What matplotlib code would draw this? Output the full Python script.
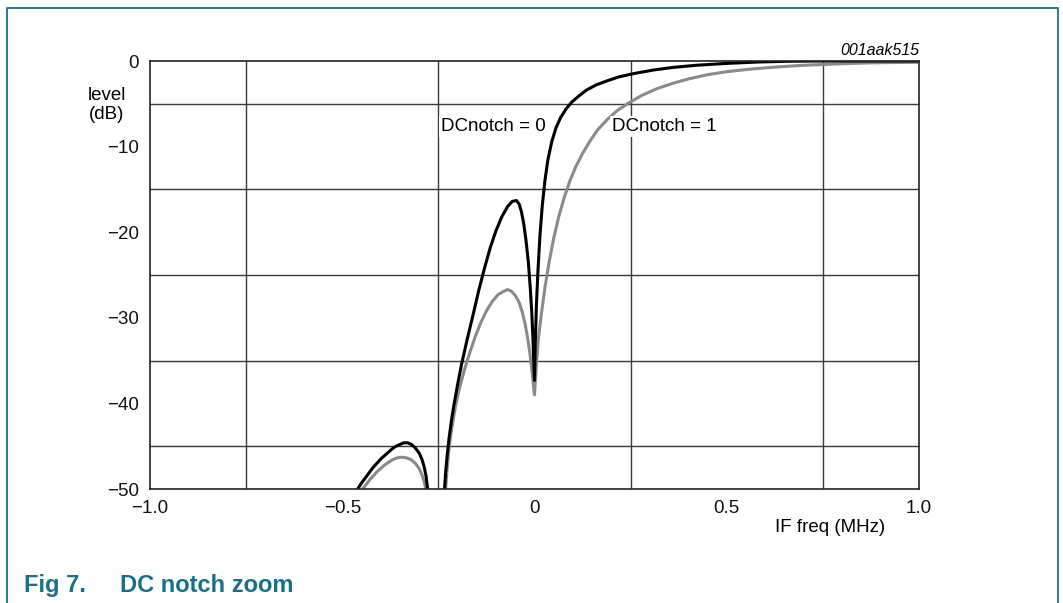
import numpy as np
from matplotlib import pyplot as plt
from matplotlib.lines import Line2D

# -------------------------------------------------
# Data (IF freq in MHz, level in dB)
# -------------------------------------------------
notch0_side_f = [-0.46, -0.45, -0.44, -0.43, -0.42, -0.41, -0.40, -0.39, -0.38, -0.37, -0.36,
                 -0.35, -0.34, -0.33, -0.32, -0.31, -0.30, -0.293, -0.287, -0.282, -0.278]
notch0_side_db = [-50, -49.3, -48.7, -48.1, -47.5, -47.0, -46.5, -46.1, -45.7, -45.3, -45.0,
                  -44.8, -44.6, -44.6, -44.8, -45.2, -45.8, -46.5, -47.4, -48.5, -50]

notch0_main_f = [-0.234, -0.231, -0.227, -0.222, -0.216, -0.21, -0.20, -0.19, -0.175, -0.16, -0.145,
                 -0.13, -0.115, -0.10, -0.085, -0.07, -0.058, -0.047, -0.04, -0.034, -0.028,
                 -0.022, -0.016, -0.011, -0.007, -0.004, -0.002, 0.0,
                 0.002, 0.005, 0.009, 0.014, 0.02, 0.027, 0.035, 0.045, 0.056, 0.068, 0.082,
                 0.097, 0.115, 0.135, 0.16, 0.19, 0.22, 0.26, 0.31, 0.36, 0.42, 0.50, 0.58,
                 0.66, 0.75, 1.0]
notch0_main_db = [-50, -48, -46, -44, -42, -40.3, -37.8, -35.5, -32.5, -29.7, -26.8,
                  -24.2, -21.8, -19.8, -18.2, -17.0, -16.4, -16.3, -16.7, -17.6, -19.0,
                  -21.0, -23.5, -26.5, -29.5, -32.5, -35, -37.3,
                  -33, -28.5, -24.5, -20.5, -17, -14, -11.5, -9.4, -7.8, -6.6, -5.6,
                  -4.8, -4.1, -3.4, -2.8, -2.3, -1.85, -1.45, -1.05, -0.75, -0.5, -0.28, -0.12,
                  -0.03, 0.0, 0.0]

notch1_side_f = [-0.447, -0.44, -0.43, -0.42, -0.41, -0.40, -0.39, -0.38, -0.37, -0.36,
                 -0.35, -0.34, -0.33, -0.32, -0.31, -0.30, -0.293, -0.287, -0.283]
notch1_side_db = [-50, -49.6, -49.0, -48.5, -48.0, -47.6, -47.2, -46.9, -46.6, -46.4,
                  -46.3, -46.3, -46.4, -46.6, -47.0, -47.6, -48.3, -49.1, -50]

notch1_main_f = [-0.231, -0.228, -0.224, -0.219, -0.212, -0.204, -0.195, -0.183, -0.17, -0.155,
                 -0.14, -0.125, -0.11, -0.095, -0.08, -0.07, -0.06, -0.05, -0.04, -0.032,
                 -0.024, -0.017, -0.011, -0.006, -0.002, 0.0,
                 0.004, 0.01, 0.018, 0.027, 0.038, 0.05, 0.063, 0.077, 0.092, 0.108, 0.125,
                 0.145, 0.165, 0.19, 0.215, 0.245, 0.28, 0.32, 0.36, 0.40, 0.45, 0.50, 0.56,
                 0.63, 0.70, 0.78, 0.87, 0.95, 1.0]
notch1_main_db = [-50, -48, -46, -44, -42, -40, -38.2, -36.2, -34.3, -32.3,
                  -30.6, -29.2, -28.1, -27.3, -26.9, -26.7, -26.9, -27.4, -28.2, -29.3,
                  -30.8, -32.6, -34.5, -36.5, -38.2, -39,
                  -36, -32.5, -29.5, -26.5, -23.5, -20.7, -18.2, -16, -14, -12.3, -10.8,
                  -9.3, -8.0, -6.8, -5.8, -4.9, -4.0, -3.2, -2.6, -2.1, -1.6, -1.25, -0.95,
                  -0.7, -0.5, -0.35, -0.22, -0.17, -0.15]

x_ticks = [-1.0, -0.5, 0.0, 0.5, 1.0]
x_tick_labels = ["\u22121.0", "\u22120.5", "0", "0.5", "1.0"]
y_ticks = [0, -10, -20, -30, -40, -50]
y_tick_labels = ["0", "\u221210", "\u221220", "\u221230", "\u221240", "\u221250"]

TEAL = "#16708c"
GRAY = "#8a8a8a"
FS = 13.5

plt.rcParams["font.family"] = ["Liberation Sans", "DejaVu Sans"]

fig = plt.figure(figsize=(10.63, 6.03), dpi=100)
ax = fig.add_axes([150 / 1063, 1 - 489 / 603, 769 / 1063, 428 / 603])

# Grid
ax.set_xlim(-1.0, 1.0)
ax.set_ylim(-50, 0)
ax.set_xticks(np.arange(-1.0, 1.01, 0.25), minor=True)
ax.set_yticks(np.arange(-50, 1, 5), minor=True)
ax.grid(True, which="minor", color="#3a3a3a", linewidth=1.0)
ax.set_xticks(x_ticks)
ax.set_xticklabels(x_tick_labels)
ax.set_yticks(y_ticks)
ax.set_yticklabels(y_tick_labels)
ax.tick_params(which="both", length=0, labelsize=FS, colors="#111111")
ax.tick_params(axis="x", pad=8)
ax.tick_params(axis="y", pad=8)
for sp in ax.spines.values():
    sp.set_color("#222222")
    sp.set_linewidth(1.2)

# Curves
for f, db, c in [(notch1_side_f, notch1_side_db, GRAY),
                 (notch1_main_f, notch1_main_db, GRAY),
                 (notch0_side_f, notch0_side_db, "black"),
                 (notch0_main_f, notch0_main_db, "black")]:
    ax.plot(f, db, color=c, linewidth=2.2, solid_capstyle="butt", solid_joinstyle="round")

# Curve labels
box = dict(facecolor="white", edgecolor="none", pad=1.5)
ax.text(-0.106, -7.7, "DCnotch = 0", fontsize=FS, ha="center", va="center", bbox=box)
ax.text(0.338, -7.7, "DCnotch = 1", fontsize=FS, ha="center", va="center", bbox=box)

# Axis titles and figure texts
fig.text(107 / 1063, 1 - 105 / 603, "level\n(dB)", fontsize=FS, ha="center", va="center",
         linespacing=1.2)
fig.text(830 / 1063, 1 - 528 / 603, "IF freq (MHz)", fontsize=FS, ha="center", va="center")
fig.text(919 / 1063, 1 - 55 / 603, "001aak515", fontsize=11.5, style="italic",
         ha="right", va="baseline")
fig.text(24 / 1063, 1 - 592 / 603, "Fig 7.", fontsize=17, weight="bold", color=TEAL,
         ha="left", va="baseline")
fig.text(120 / 1063, 1 - 592 / 603, "DC notch zoom", fontsize=17, weight="bold", color=TEAL,
         ha="left", va="baseline")

# Frame around the figure
fx = [7 / 1063, 7 / 1063, 1058 / 1063, 1058 / 1063]
fy = [0, 1 - 8 / 603, 1 - 8 / 603, 0]
fig.add_artist(Line2D(fx, fy, transform=fig.transFigure, color=TEAL, linewidth=1.3))

fig.savefig("out.png", dpi=100)
